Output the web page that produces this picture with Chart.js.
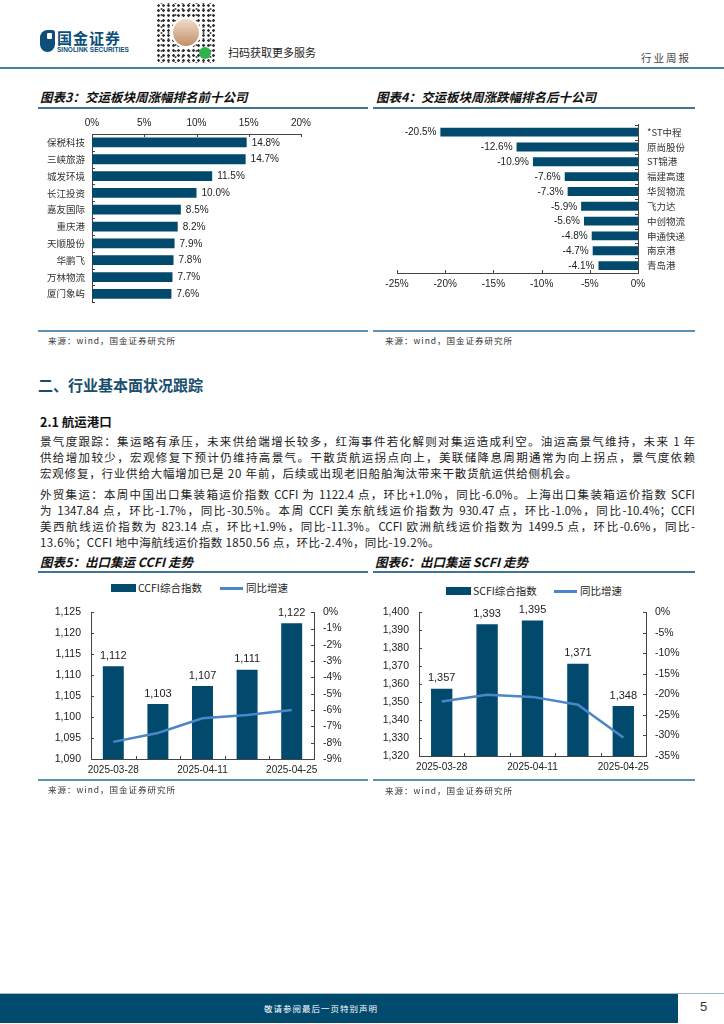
<!DOCTYPE html>
<html>
<head>
<meta charset="utf-8">
<title>交运周报</title>
<script src="https://cdn.jsdelivr.net/npm/chart.js@4.4.1/dist/chart.umd.min.js"></script>
<style>
  body { margin:0; width:724px; height:1024px; position:relative; overflow:hidden; background:#fff;
         font-family:"Noto Sans CJK SC", sans-serif; color:#222; }
  .abs { position:absolute; white-space:nowrap; }
  .rule { position:absolute; height:1.5px; background:#3f7597; }
  .src-rule { position:absolute; height:1.5px; background:#5b92b3; }
  .ttl { font-size:12.5px; line-height:14px; font-weight:bold; font-style:italic; color:#111; }
  .src { font-size:8.5px; line-height:10px; color:#333; letter-spacing:1px; }
  .para { position:absolute; left:40px; width:655px; font-size:11.5px; line-height:16px; color:#222; white-space:nowrap; }
  .just { text-align:justify; text-align-last:justify; }
  .leg { font-size:10.5px; line-height:12px; color:#222; }
  .box { position:absolute; }
</style>
</head>
<body>

<!-- header -->
<div class="box" style="left:40px;top:30px;width:15px;height:22px;background:#0b4f7a;border-radius:8px 3px 8px 8px;"></div>
<div class="box" style="left:47px;top:33px;width:5px;height:6px;background:#fff;border-radius:1px;"></div>
<div class="abs" style="left:57px;top:30px;font-size:15px;line-height:16px;font-weight:bold;color:#0b4f7a;letter-spacing:1px;">国金证券</div>
<div class="abs" style="left:57px;top:46px;font-size:6.5px;line-height:7px;font-weight:bold;color:#0b4f7a;font-family:'Liberation Sans',sans-serif;">SINOLINK SECURITIES</div>
<div class="box" style="left:156px;top:3px;width:60px;height:60px;border-radius:6px;
     background:radial-gradient(circle,#333 1px,transparent 1.6px) 0 0/5px 5px,
                radial-gradient(circle,#555 0.8px,transparent 1.3px) 2px 3px/7px 6px;"></div>
<div class="box" style="left:171px;top:17px;width:30px;height:31px;border-radius:50%;background:#fff;"></div>
<div class="box" style="left:173px;top:19px;width:26px;height:27px;border-radius:50%;background:linear-gradient(#f1dcc8,#c08f68);"></div>
<div class="box" style="left:199px;top:47px;width:12px;height:12px;border-radius:50%;background:#2fb34a;"></div>
<div class="abs" style="left:228px;top:46px;font-size:11px;line-height:13px;color:#222;">扫码获取更多服务</div>
<div class="abs" style="left:641px;top:52px;font-size:10.5px;line-height:12px;color:#444;letter-spacing:2px;">行业周报</div>
<div class="rule" style="left:0;top:67px;width:724px;background:#467fa3;"></div>

<!-- figure 3 / 4 -->
<div class="abs ttl" style="left:40px;top:90px;">图表3：交运板块周涨幅排名前十公司</div>
<div class="abs ttl" style="left:376px;top:90px;">图表4：交运板块周涨跌幅排名后十公司</div>
<div class="rule" style="left:38px;top:107px;width:330px;"></div>
<div class="rule" style="left:373px;top:107px;width:322px;"></div>

<div class="box" style="left:30px;top:110px;width:320px;height:205px;"><canvas id="topChart" width="320" height="205"></canvas></div>
<div class="box" style="left:372px;top:110px;width:330px;height:190px;"><canvas id="bottomChart" width="330" height="190"></canvas></div>

<div class="src-rule" style="left:38px;top:330px;width:330px;"></div>
<div class="src-rule" style="left:373px;top:330px;width:322px;"></div>
<div class="abs src" style="left:48px;top:335px;">来源：wind，国金证券研究所</div>
<div class="abs src" style="left:385px;top:335px;">来源：wind，国金证券研究所</div>

<!-- body text -->
<div class="abs" style="left:38px;top:376px;font-size:15px;line-height:18px;font-weight:bold;color:#174d6e;">二、行业基本面状况跟踪</div>
<div class="abs" style="left:40px;top:414px;font-size:12.5px;line-height:15px;font-weight:bold;color:#111;">2.1 航运港口</div>

<div class="para just" style="top:433px;">景气度跟踪：集运略有承压，未来供给端增长较多，红海事件若化解则对集运造成利空。油运高景气维持，未来 1 年</div>
<div class="para just" style="top:449px;">供给增加较少，宏观修复下预计仍维持高景气。干散货航运拐点向上，美联储降息周期通常为向上拐点，景气度依赖</div>
<div class="para" style="top:465px;letter-spacing:0.8px;">宏观修复，行业供给大幅增加已是 20 年前，后续或出现老旧船舶淘汰带来干散货航运供给侧机会。</div>

<div class="para just" style="top:486px;">外贸集运：本周中国出口集装箱运价指数 CCFI 为 1122.4 点，环比+1.0%，同比-6.0%。上海出口集装箱运价指数 SCFI</div>
<div class="para just" style="top:502px;">为 1347.84 点，环比-1.7%，同比-30.5%。本周 CCFI 美东航线运价指数为 930.47 点，环比-1.0%，同比-10.4%；CCFI</div>
<div class="para just" style="top:518px;">美西航线运价指数为 823.14 点，环比+1.9%，同比-11.3%。CCFI 欧洲航线运价指数为 1499.5 点，环比-0.6%，同比-</div>
<div class="para" style="top:534px;letter-spacing:0.4px;">13.6%；CCFI 地中海航线运价指数 1850.56 点，环比-2.4%，同比-19.2%。</div>

<!-- figure 5 / 6 -->
<div class="abs ttl" style="left:40px;top:555px;">图表5：出口集运 CCFI 走势</div>
<div class="abs ttl" style="left:375px;top:555px;">图表6：出口集运 SCFI 走势</div>
<div class="rule" style="left:38px;top:571px;width:330px;"></div>
<div class="rule" style="left:373px;top:571px;width:322px;"></div>

<div class="box" style="left:111px;top:584px;width:25px;height:8px;background:#01496d;"></div>
<div class="abs leg" style="left:138px;top:582px;">CCFI综合指数</div>
<div class="box" style="left:220px;top:587px;width:23px;height:3px;background:#4a86c8;"></div>
<div class="abs leg" style="left:246px;top:582px;">同比增速</div>

<div class="box" style="left:446px;top:587px;width:25px;height:8px;background:#01496d;"></div>
<div class="abs leg" style="left:473px;top:585px;">SCFI综合指数</div>
<div class="box" style="left:554px;top:590px;width:23px;height:3px;background:#4a86c8;"></div>
<div class="abs leg" style="left:580px;top:585px;">同比增速</div>

<div class="box" style="left:30px;top:596px;width:340px;height:184px;"><canvas id="ccfiChart" width="340" height="184"></canvas></div>
<div class="box" style="left:370px;top:596px;width:330px;height:184px;"><canvas id="scfiChart" width="330" height="184"></canvas></div>

<div class="src-rule" style="left:38px;top:779px;width:330px;"></div>
<div class="src-rule" style="left:373px;top:779px;width:322px;"></div>
<div class="abs src" style="left:48px;top:784px;">来源：wind，国金证券研究所</div>
<div class="abs src" style="left:385px;top:785px;">来源：wind，国金证券研究所</div>

<!-- footer -->
<div class="box" style="left:0;top:993px;width:724px;height:1px;background:#9fb9c9;"></div>
<div class="box" style="left:0;top:994px;width:678px;height:29px;background:#004a6e;"></div>
<div class="abs" style="left:0;top:1003px;width:642px;text-align:center;font-size:8.5px;line-height:10px;color:#fff;letter-spacing:1px;">敬请参阅最后一页特别声明</div>
<div class="abs" style="left:700px;top:999px;font-size:13px;line-height:15px;color:#333;font-family:'Liberation Sans',sans-serif;">5</div>

<script>
(function() {
  // ------------------------
  // Data
  // ------------------------
  const topNames = ['保税科技', '三峡旅游', '城发环境', '长江投资', '嘉友国际', '重庆港', '天顺股份', '华鹏飞', '万林物流', '厦门象屿'];
  const topChange = [14.8, 14.7, 11.5, 10.0, 8.5, 8.2, 7.9, 7.8, 7.7, 7.6];

  const bottomNames = ['*ST中程', '原尚股份', 'ST锦港', '福建高速', '华贸物流', '飞力达', '中创物流', '申通快递', '南京港', '青岛港'];
  const bottomChange = [-20.5, -12.6, -10.9, -7.6, -7.3, -5.9, -5.6, -4.8, -4.7, -4.1];

  const weekDates = ['2025-03-28', '2025-04-03', '2025-04-11', '2025-04-18', '2025-04-25'];
  const ccfiIndex = [1112.1, 1103.1, 1107.4, 1111.3, 1122.4];
  const ccfiYoY = [-7.95, -7.4, -6.5, -6.3, -6.0];
  const scfiIndex = [1357.4, 1393.4, 1395.4, 1371.4, 1347.84];
  const scfiYoY = [-21.7, -20.1, -20.6, -22.5, -30.5];

  const BAR = '#01496d';
  const LINE = '#4a86c8';
  const AXIS = '#444';
  const NUM_FONT = '"Liberation Sans", Arial, sans-serif';
  const CJK_FONT = '"Noto Sans CJK SC", sans-serif';

  Chart.defaults.font.family = NUM_FONT;
  Chart.defaults.color = '#222';
  Chart.defaults.animation = false;

  // ------------------------
  // Plugins: value labels + inward tick marks
  // ------------------------
  const valueLabels = {
    id: 'valueLabels',
    afterDatasetsDraw(chart, args, opts) {
      const idx = opts.datasetIndex || 0;
      const ds = chart.data.datasets[idx];
      const meta = chart.getDatasetMeta(idx);
      const ctx = chart.ctx;
      ctx.save();
      ctx.font = opts.font;
      ctx.fillStyle = '#222';
      meta.data.forEach((bar, i) => {
        const v = ds.data[i];
        const txt = opts.format(v);
        if (chart.options.indexAxis === 'y') {
          ctx.textBaseline = 'middle';
          ctx.textAlign = v < 0 ? 'right' : 'left';
          ctx.fillText(txt, bar.x + (v < 0 ? -4 : 5), bar.y + 0.5);
        } else {
          ctx.textBaseline = 'bottom';
          ctx.textAlign = 'center';
          ctx.fillText(txt, bar.x, bar.y - 5);
        }
      });
      ctx.restore();
    }
  };

  const innerTicks = {
    id: 'innerTicks',
    afterDraw(chart) {
      const ctx = chart.ctx;
      const a = chart.chartArea;
      const len = 3;
      ctx.save();
      ctx.strokeStyle = AXIS;
      ctx.lineWidth = 1;
      Object.values(chart.scales).forEach(s => {
        let pos = [];
        if (s.type === 'category') {
          for (let i = 0; i <= s.ticks.length; i++) pos.push(s.getPixelForValue(i - 0.5));
        } else {
          pos = s.ticks.map((t, i) => s.getPixelForTick(i));
        }
        pos.forEach(p => {
          const q = Math.round(p) + 0.5;
          ctx.beginPath();
          if (s.isHorizontal()) {
            const y = s.position === 'top' ? a.top : a.bottom;
            const dir = s.position === 'top' ? 1 : -1;
            ctx.moveTo(q, y);
            ctx.lineTo(q, y + dir * len);
          } else {
            const x = s.position === 'left' ? a.left : a.right;
            const dir = s.position === 'left' ? 1 : -1;
            ctx.moveTo(x, q);
            ctx.lineTo(x + dir * len, q);
          }
          ctx.stroke();
        });
      });
      ctx.restore();
    }
  };

  const noGrid = { display: false, drawTicks: false };
  const border = { display: true, color: AXIS, width: 1 };
  const pct = v => v + '%';
  const thousands = v => Math.round(v).toLocaleString('en-US');

  // ------------------------
  // 图表3: top ten gainers
  // ------------------------
  new Chart(document.getElementById('topChart'), {
    type: 'bar',
    data: {
      labels: topNames,
      datasets: [{ data: topChange, backgroundColor: BAR, categoryPercentage: 1, barPercentage: 0.58 }]
    },
    plugins: [valueLabels, innerTicks],
    options: {
      indexAxis: 'y',
      responsive: false,
      layout: { padding: { top: 0, left: 0, right: 49, bottom: 8 } },
      plugins: {
        legend: { display: false }, tooltip: { enabled: false },
        valueLabels: { font: '10px ' + NUM_FONT, format: v => v.toFixed(1) + '%' }
      },
      scales: {
        x: {
          position: 'top', min: 0, max: 20,
          ticks: { stepSize: 5, callback: pct, font: { size: 10 }, padding: 5 },
          grid: noGrid, border,
          afterFit: s => { s.height = 24; }
        },
        y: {
          ticks: { font: { family: CJK_FONT, size: 9.5 }, color: '#333', padding: 7 },
          grid: noGrid, border,
          afterFit: s => { s.width = 62; }
        }
      }
    }
  });

  // ------------------------
  // 图表4: bottom ten losers
  // ------------------------
  new Chart(document.getElementById('bottomChart'), {
    type: 'bar',
    data: {
      labels: bottomNames,
      datasets: [{ data: bottomChange, backgroundColor: BAR, categoryPercentage: 1, barPercentage: 0.6 }]
    },
    plugins: [valueLabels, innerTicks],
    options: {
      indexAxis: 'y',
      responsive: false,
      layout: { padding: { top: 10, left: 25, right: 0, bottom: 7 } },
      plugins: {
        legend: { display: false }, tooltip: { enabled: false },
        valueLabels: { font: '10px ' + NUM_FONT, format: v => v.toFixed(1) + '%' }
      },
      scales: {
        x: {
          position: 'bottom', min: -25, max: 0,
          ticks: { stepSize: 5, callback: pct, font: { size: 10 }, padding: 5 },
          grid: noGrid, border,
          afterFit: s => { s.height = 20; }
        },
        y: {
          position: 'right',
          ticks: { font: { family: CJK_FONT, size: 9.5 }, color: '#333', padding: 9 },
          grid: noGrid, border,
          afterFit: s => { s.width = 64; }
        }
      }
    }
  });

  // ------------------------
  // 图表5 / 图表6: index bars + yoy line
  // ------------------------
  function indexChart(id, index, yoy, left, right, fit) {
    return new Chart(document.getElementById(id), {
      type: 'bar',
      data: {
        labels: weekDates,
        datasets: [
          { type: 'line', data: yoy, yAxisID: 'y1', borderColor: LINE, borderWidth: 2.5, pointRadius: 0, tension: 0, order: 0 },
          { type: 'bar', data: index, yAxisID: 'y', backgroundColor: BAR, categoryPercentage: 1, barPercentage: 0.47, order: 1 }
        ]
      },
      plugins: [valueLabels, innerTicks],
      options: {
        responsive: false,
        layout: { padding: fit.padding },
        plugins: {
          legend: { display: false }, tooltip: { enabled: false },
          valueLabels: { datasetIndex: 1, font: '11px ' + NUM_FONT, format: thousands }
        },
        scales: {
          x: {
            ticks: { autoSkip: false, maxRotation: 0, font: { size: 10 }, padding: 5,
                     callback: (v, i) => (i % 2 === 0 ? weekDates[i] : '') },
            grid: noGrid, border,
            afterFit: s => { s.height = fit.xh; }
          },
          y: {
            position: 'left', min: left.min, max: left.max,
            ticks: { stepSize: left.step, callback: thousands, font: { size: 10.5 }, padding: 10 },
            grid: noGrid, border,
            afterFit: s => { s.width = fit.yw; }
          },
          y1: {
            position: 'right', min: right.min, max: right.max,
            ticks: { stepSize: right.step, callback: pct, font: { size: 10.5 }, padding: 9 },
            grid: noGrid, border,
            afterFit: s => { s.width = fit.y1w; }
          }
        }
      }
    });
  }

  indexChart('ccfiChart', ccfiIndex, ccfiYoY,
    { min: 1090, max: 1125, step: 5 }, { min: -9, max: 0, step: 1 },
    { padding: { top: 6, left: 0, right: 0, bottom: 3 }, xh: 18, yw: 61, y1w: 56 });

  indexChart('scfiChart', scfiIndex, scfiYoY,
    { min: 1320, max: 1400, step: 10 }, { min: -35, max: 0, step: 5 },
    { padding: { top: 8, left: 0, right: 0, bottom: 4 }, xh: 20, yw: 49, y1w: 54 });
})();
</script>
</body>
</html>
